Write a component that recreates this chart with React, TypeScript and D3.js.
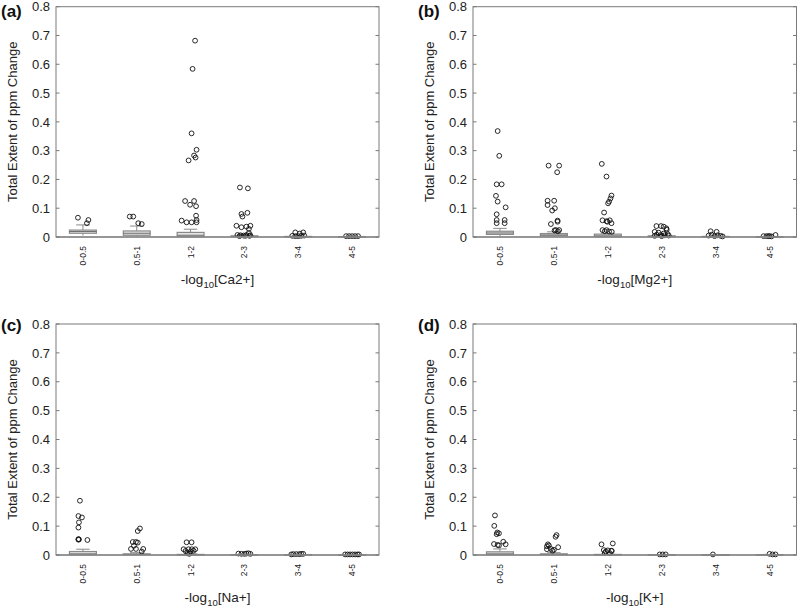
import React from 'react';
import * as d3 from 'd3';

const categories = ['0-0.5', '0.5-1', '1-2', '2-3', '3-4', '4-5'];
const yTicks = [0, 0.1, 0.2, 0.3, 0.4, 0.5, 0.6, 0.7, 0.8];
const panelLabels = ['(a)', '(b)', '(c)', '(d)'];
const ionLabels = ['Ca2+', 'Mg2+', 'Na+', 'K+'];

// box stats per category: [lowerWhisker, q1, median, q3, upperWhisker]
const boxesCa = [
  [0.005, 0.013, 0.019, 0.024, 0.042],
  [0.001, 0.006, 0.013, 0.021, 0.038],
  [0.0, 0.001, 0.006, 0.016, 0.027],
  [0.0, 0.001, 0.002, 0.004, 0.007],
  [0.0, 0.001, 0.001, 0.002, 0.003],
  [0.0, 0.0, 0.001, 0.001, 0.002],
];
const boxesMg = [
  [0.001, 0.009, 0.014, 0.02, 0.03],
  [0.0, 0.004, 0.007, 0.012, 0.018],
  [0.0, 0.001, 0.004, 0.01, 0.013],
  [0.0, 0.001, 0.002, 0.004, 0.008],
  [0.0, 0.001, 0.001, 0.002, 0.003],
  [0.0, 0.0, 0.001, 0.001, 0.002],
];
const boxesNa = [
  [0.0, 0.001, 0.004, 0.012, 0.02],
  [0.0, 0.001, 0.002, 0.004, 0.008],
  [0.0, 0.0, 0.001, 0.002, 0.004],
  [0.0, 0.0, 0.001, 0.001, 0.002],
  [0.0, 0.0, 0.001, 0.001, 0.002],
  [0.0, 0.0, 0.0, 0.001, 0.001],
];
const boxesK = [
  [0.0, 0.001, 0.004, 0.011, 0.021],
  [0.0, 0.001, 0.002, 0.004, 0.008],
  [0.0, 0.0, 0.001, 0.002, 0.003],
  [0.0, 0.0, 0.001, 0.001, 0.001],
  [0.0, 0.0, 0.0, 0.001, 0.001],
  [0.0, 0.0, 0.001, 0.001, 0.002],
];

// outliers per category: [value, jitter] (jitter in 1/54 of the category band)
const outliersCa = [
  [[0.067, -5], [0.059, 5.5], [0.048, 4]],
  [[0.071, -7], [0.071, -3.5], [0.048, 1.5], [0.045, 5]],
  [[0.682, 4.5], [0.584, 2], [0.36, 1], [0.303, 6], [0.283, 3.5], [0.276, 5], [0.266, -2],
   [0.125, -5.5], [0.125, 3.5], [0.112, -0.5], [0.107, 5.5], [0.074, 5.5], [0.057, -9],
   [0.051, -4], [0.051, 1], [0.059, 6], [0.051, 6]],
  [[0.172, -4.5], [0.169, 3.5], [0.084, 3], [0.08, -3], [0.071, -2], [0.039, -8], [0.034, -3],
   [0.036, 2], [0.039, 6], [0.028, 4.5], [0.014, 4.5], [0.007, -7], [0.006, -4], [0.005, -1],
   [0.007, 2], [0.004, 5], [0.006, 6], [0.003, -5], [0.004, 1]],
  [[0.016, -3], [0.016, 5], [0.012, 1.5], [0.004, -6], [0.003, -3], [0.003, 0], [0.004, 3], [0.005, 6]],
  [[0.003, -6], [0.003, -3], [0.003, 0], [0.003, 3], [0.003, 6]],
];
const outliersMg = [
  [[0.368, -2.3], [0.282, -0.7], [0.183, -3.3], [0.183, 1.7], [0.143, -4], [0.123, -2.3],
   [0.103, 5.7], [0.079, -3.3], [0.059, -3.3], [0.048, -3.3], [0.059, 4.7], [0.048, 4.7]],
  [[0.248, -5.3], [0.248, 5.3], [0.225, 3.3], [0.126, -6.3], [0.126, 0.3], [0.111, -6.3],
   [0.1, 1], [0.092, -1.7], [0.057, 3.7], [0.053, 3.7], [0.045, -3], [0.024, 2], [0.024, 5.3],
   [0.023, 0.7], [0.02, 4]],
  [[0.254, -6], [0.21, -1.3], [0.144, 3.7], [0.134, 2.7], [0.123, 1.3], [0.117, 0.3],
   [0.085, -3.7], [0.058, -5.3], [0.055, -1.3], [0.058, 2], [0.053, -0.3], [0.048, 3.7],
   [0.024, -5.3], [0.024, -1.3], [0.019, 1.3], [0.02, -3], [0.018, 4]],
  [[0.038, -5.3], [0.038, -0.7], [0.036, 2], [0.03, 4.7], [0.025, 5], [0.018, -7], [0.015, -3],
   [0.012, 2], [0.01, 6], [0.008, -5], [0.007, -1], [0.006, 3], [0.005, 7], [0.004, -7], [0.003, 0]],
  [[0.02, -5], [0.018, 1], [0.008, -4], [0.006, 2], [0.005, -7], [0.004, 5], [0.003, -1], [0.002, 7]],
  [[0.003, -6], [0.003, -3], [0.003, 0], [0.002, 2], [0.003, -1], [0.007, 6]],
];
const outliersNa = [
  [[0.188, -3], [0.135, -4.5], [0.13, -1], [0.113, -4], [0.095, -4.5], [0.055, -4.5],
   [0.054, -4], [0.053, -4.5], [0.052, 4.5]],
  [[0.092, 3.2], [0.083, 1], [0.045, -4], [0.045, -0.8], [0.043, 1], [0.032, -2.8],
   [0.021, -5.8], [0.021, -0.8], [0.021, 6.5], [0.012, 5]],
  [[0.044, -4], [0.044, 1], [0.02, -7], [0.02, -2], [0.02, 1.3], [0.02, 4.7], [0.014, -5],
   [0.012, 0], [0.015, 3], [0.006, -3], [0.004, -1.3]],
  [[0.005, -6], [0.004, -3], [0.004, 0], [0.005, 2], [0.006, 4], [0.004, 6]],
  [[0.003, -5], [0.003, -2], [0.003, 1], [0.004, 3], [0.004, 5], [0.002, -7]],
  [[0.002, -7], [0.002, -4.5], [0.002, -2], [0.002, 0.5], [0.002, 3], [0.002, 5.5], [0.002, 7]],
];
const outliersK = [
  [[0.137, -5], [0.101, -5.7], [0.078, -2.7], [0.075, -1], [0.072, -3.3], [0.046, 3.3],
   [0.038, -6], [0.037, 5.7], [0.035, -2.3], [0.033, -1]],
  [[0.069, 2.7], [0.063, 1.7], [0.037, -6], [0.033, -5], [0.03, -7], [0.027, 4.3],
   [0.021, -3], [0.02, -7], [0.018, 0], [0.015, -1.5]],
  [[0.04, 5], [0.037, -6.3], [0.017, -4], [0.016, 0], [0.015, 3.5], [0.014, 4], [0.012, -2],
   [0.007, -3], [0.006, 2]],
  [[0.002, -2], [0.002, 1], [0.002, 4]],
  [[0.002, -2.7]],
  [[0.004, 0], [0.002, 3], [0.002, 6]],
];

const panelBoxes = [boxesCa, boxesMg, boxesNa, boxesK];
const panelOutliers = [outliersCa, outliersMg, outliersNa, outliersK];

const W = 798;
const H = 609;
const FONT = 'Liberation Sans, Arial, Helvetica, sans-serif';
const frames = [
  { left: 56, right: 379, top: 6.7, bottom: 237, lblY: 17 },
  { left: 473, right: 796.5, top: 6.7, bottom: 237, lblY: 17 },
  { left: 56, right: 379, top: 324, bottom: 555, lblY: 331 },
  { left: 473, right: 796.5, top: 324, bottom: 555, lblY: 331 },
];

function Panel({ idx }: { idx: number }) {
  const f = frames[idx];
  const x = d3.scaleBand<string>().domain(categories).range([f.left, f.right]).padding(0);
  const y = d3.scaleLinear().domain([0, 0.8]).range([f.bottom, f.top]);
  const bw = x.bandwidth();
  const boxW = bw * 0.5;
  const capW = boxW * 0.5;
  const boxes = panelBoxes[idx];
  const outs = panelOutliers[idx];
  const grey = '#8a8a8a';
  return (
    <g>
      {/* boxes */}
      {categories.map((c, i) => {
        const cx = (x(c) as number) + bw / 2;
        const [lo, q1, med, q3, hi] = boxes[i];
        return (
          <g key={c}>
            <line x1={cx} x2={cx} y1={y(q3)} y2={y(hi)} stroke={grey} strokeWidth={1} />
            <line x1={cx} x2={cx} y1={y(q1)} y2={y(lo)} stroke={grey} strokeWidth={1} />
            <line x1={cx - capW / 2} x2={cx + capW / 2} y1={y(hi)} y2={y(hi)} stroke={grey} strokeWidth={1} />
            <rect x={cx - boxW / 2} y={y(q3)} width={boxW} height={Math.max(0.5, y(q1) - y(q3))}
              fill="#e4e4e4" stroke={grey} strokeWidth={1.2} />
            <line x1={cx - boxW / 2} x2={cx + boxW / 2} y1={y(med)} y2={y(med)} stroke="#6e6e6e" strokeWidth={1} />
          </g>
        );
      })}
      {/* outliers */}
      {categories.map((c, i) => {
        const cx = (x(c) as number) + bw / 2;
        return outs[i].map((p, k) => (
          <circle key={c + k} cx={cx + (p[1] * bw) / 54} cy={y(p[0])} r={2.4}
            fill="none" stroke="#111" strokeWidth={0.9} />
        ));
      })}
      {/* frame */}
      <rect x={f.left} y={f.top} width={f.right - f.left} height={f.bottom - f.top}
        fill="none" stroke="#7a7a7a" strokeWidth={1} />
      <line x1={f.left} x2={f.right} y1={f.bottom} y2={f.bottom} stroke="#8a8a8a" strokeWidth={1.6} />
      {yTicks.map((t) => (
        <g key={t}>
          <line x1={f.left} x2={f.left + 3.5} y1={y(t)} y2={y(t)} stroke="#7a7a7a" />
          <line x1={f.right - 3.5} x2={f.right} y1={y(t)} y2={y(t)} stroke="#7a7a7a" />
          <text x={f.left - 6} y={y(t)} dy="0.36em" textAnchor="end" fontSize={13}
            fontFamily={FONT} fill="#222">{String(t)}</text>
        </g>
      ))}
      {categories.map((c) => {
        const cx = (x(c) as number) + bw / 2;
        return (
          <text key={c} transform={`translate(${cx},${f.bottom + 9}) rotate(-90)`} dy="0.35em"
            textAnchor="end" fontSize={8.5} fontFamily={FONT} fill="#222">{c}</text>
        );
      })}
      <text x={(f.left + f.right) / 2} y={f.bottom + 47} textAnchor="middle" fontSize={13.5}
        fontFamily={FONT} fill="#222">
        -log<tspan fontSize={9.5} dy={4}>10</tspan><tspan dy={-4}>[{ionLabels[idx]}]</tspan>
      </text>
      <text transform={`translate(${f.left - 39},${(f.top + f.bottom) / 2}) rotate(-90)`}
        textAnchor="middle" fontSize={13} fontFamily={FONT} fill="#222">Total Extent of ppm Change</text>
      <text x={f.left - 55} y={f.lblY} fontSize={17} fontWeight="bold" fontFamily={FONT}
        fill="#111">{panelLabels[idx]}</text>
    </g>
  );
}

export default function App() {
  return (
    <svg width={W} height={H} style={{ position: 'absolute', left: 0, top: 0, background: '#fff' }}>
      <rect x={0} y={0} width={W} height={H} fill="#fff" />
      {[0, 1, 2, 3].map((i) => (
        <Panel key={i} idx={i} />
      ))}
    </svg>
  );
}
